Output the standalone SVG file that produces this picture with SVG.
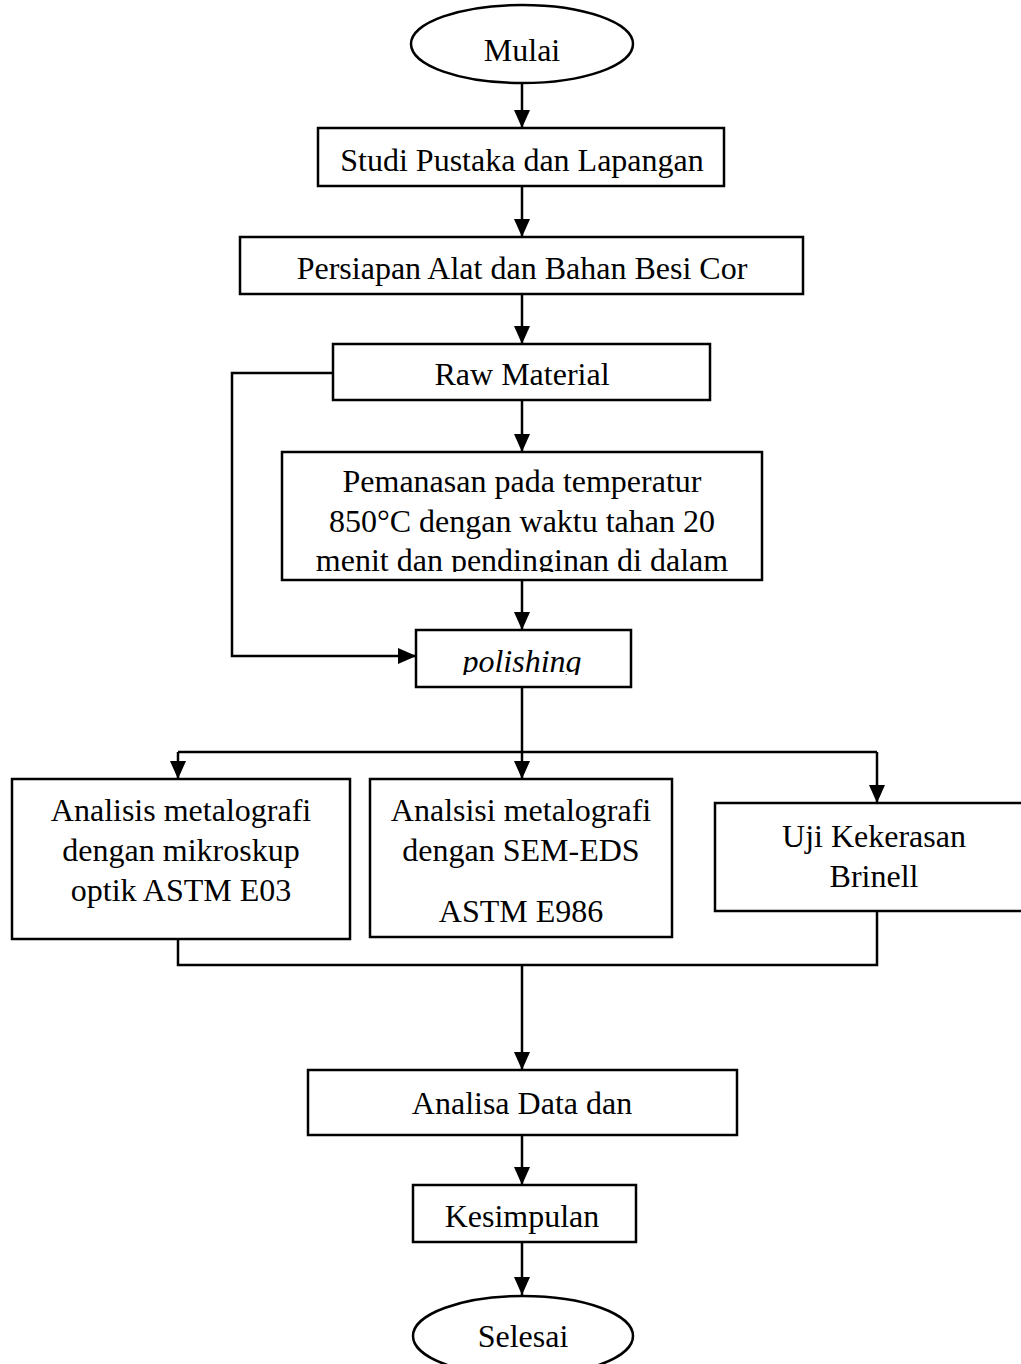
<svg xmlns="http://www.w3.org/2000/svg" width="1021" height="1364" viewBox="0 0 1021 1364">
<style>
.n{fill:#fff;stroke:#000;stroke-width:2.5}
.t{font-family:"Liberation Serif","Times New Roman",Tinos,serif;font-size:32px;fill:#000;text-anchor:middle}
.c{fill:none;stroke:#000;stroke-width:2.5}
</style>
<defs>
<marker id="ah" markerWidth="16" markerHeight="18" refX="18" refY="8" orient="auto" markerUnits="userSpaceOnUse">
<path d="M0,0 L18,8 L0,16 Z" fill="#000"/>
</marker>
<clipPath id="cp1"><rect x="282" y="452" width="480" height="120"/></clipPath>
<clipPath id="cp2"><rect x="416" y="630" width="215" height="45"/></clipPath>
</defs>
<rect width="1021" height="1364" fill="#fff"/>
<g id="connectors">
<path class="c" d="M522,83 V128" marker-end="url(#ah)"/>
<path class="c" d="M522,186 V237" marker-end="url(#ah)"/>
<path class="c" d="M522,294 V344" marker-end="url(#ah)"/>
<path class="c" d="M522,400 V452" marker-end="url(#ah)"/>
<path class="c" d="M333,373 H232 V656 H416" marker-end="url(#ah)"/>
<path class="c" d="M522,580 V630" marker-end="url(#ah)"/>
<path class="c" d="M522,687 V779" marker-end="url(#ah)"/>
<path class="c" d="M178,752 H877"/>
<path class="c" d="M178,752 V779" marker-end="url(#ah)"/>
<path class="c" d="M877,752 V803" marker-end="url(#ah)"/>
<path class="c" d="M178,939 V965 H877 V911"/>
<path class="c" d="M522,965 V1070" marker-end="url(#ah)"/>
<path class="c" d="M522,1135 V1185" marker-end="url(#ah)"/>
<path class="c" d="M522,1242 V1295" marker-end="url(#ah)"/>
</g>
<g id="mulai"><ellipse class="n" cx="522" cy="44" rx="111" ry="39"/><text class="t" x="522" y="61">Mulai</text></g>
<g id="studi"><rect class="n" x="318" y="128" width="406" height="58"/><text class="t" x="522" y="171">Studi Pustaka dan Lapangan</text></g>
<g id="persiapan"><rect class="n" x="240" y="237" width="563" height="57"/><text class="t" x="522" y="279">Persiapan Alat dan Bahan Besi Cor</text></g>
<g id="raw"><rect class="n" x="333" y="344" width="377" height="56"/><text class="t" x="522" y="385">Raw Material</text></g>
<g id="pemanasan"><rect class="n" x="282" y="452" width="480" height="128"/>
<g clip-path="url(#cp1)"><text class="t" x="522" y="492">Pemanasan pada temperatur</text><text class="t" x="522" y="532">850°C dengan waktu tahan 20</text><text class="t" x="522" y="571">menit dan pendinginan di dalam</text></g></g>
<g id="polishing"><rect class="n" x="416" y="630" width="215" height="57"/><g clip-path="url(#cp2)"><text class="t" x="522" y="672" font-style="italic">polishing</text></g></g>
<g id="optik"><rect class="n" x="12" y="779" width="338" height="160"/><text class="t" x="181" y="821">Analisis metalografi</text><text class="t" x="181" y="861">dengan mikroskup</text><text class="t" x="181" y="901">optik ASTM E03</text></g>
<g id="sem"><rect class="n" x="370" y="779" width="302" height="158"/><text class="t" x="521" y="821">Analsisi metalografi</text><text class="t" x="521" y="861">dengan SEM-EDS</text><text class="t" x="521" y="922">ASTM E986</text></g>
<g id="brinell"><rect class="n" x="715" y="803" width="320" height="108"/><text class="t" x="874" y="847">Uji Kekerasan</text><text class="t" x="874" y="887">Brinell</text></g>
<g id="analisa"><rect class="n" x="308" y="1070" width="429" height="65"/><text class="t" x="522" y="1114">Analisa Data dan</text></g>
<g id="kesimpulan"><rect class="n" x="413" y="1185" width="223" height="57"/><text class="t" x="522" y="1227">Kesimpulan</text></g>
<g id="selesai"><ellipse class="n" cx="523" cy="1336" rx="110" ry="40"/><text class="t" x="523" y="1347">Selesai</text></g>
</svg>
